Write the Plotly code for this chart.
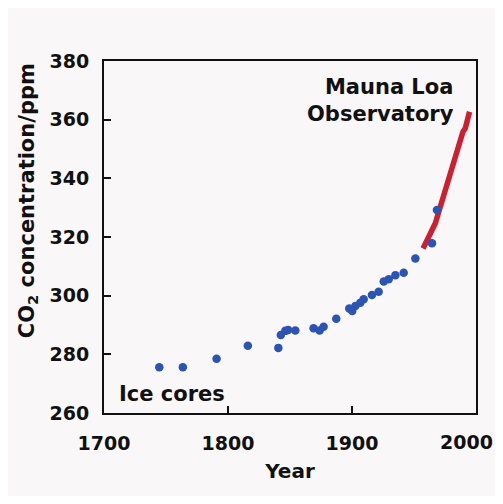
import plotly.graph_objects as go

# Ice core data (year, ppm)
ice_years = [1744.6, 1763.6, 1790.8, 1816.0, 1840.6, 1842.6, 1846.2, 1848.6, 1854.3,
             1869.0, 1873.9, 1877.1, 1887.3, 1897.8, 1900.2, 1902.7, 1906.7, 1909.4,
             1916.1, 1921.5, 1925.6, 1929.6, 1935.0, 1941.7, 1951.1, 1964.5, 1968.5]
ice_ppm = [275.6, 275.6, 278.5, 282.9, 282.2, 286.6, 288.0, 288.3, 288.1,
           288.9, 288.1, 289.4, 292.1, 295.6, 294.8, 296.5, 297.6, 298.8,
           300.2, 301.3, 304.8, 305.6, 307.0, 307.8, 312.7, 317.9, 329.2]

# Mauna Loa record
ml_years = [1957.3, 1961.8, 1967.2, 1971.2, 1975.3, 1979.3, 1983.3, 1987.4,
            1989.5, 1991.4, 1992.7, 1994.0, 1994.8]
ml_ppm = [316.1, 320.1, 324.7, 330.3, 336.0, 342.3, 348.5, 354.2,
          355.9, 357.1, 358.8, 361.6, 362.7]

x_ticks = [1700, 1800, 1900, 2000]
x_labels = ["1700", "1800", "1900", "2000"]
y_ticks = [260, 280, 300, 320, 340, 360, 380]

FONT = "DejaVu Sans"
BG = "#f9f7f7"
TICKFONT = dict(family=FONT, size=19, color="#111111", weight="bold")

fig = go.Figure()
fig.add_trace(go.Scatter(x=ml_years, y=ml_ppm, mode="lines",
                         line=dict(color="#cc1f2f", width=5.5),
                         hoverinfo="skip", showlegend=False))
fig.add_trace(go.Scatter(x=ice_years, y=ice_ppm, mode="markers",
                         marker=dict(color="#2b54b3", size=8.5),
                         showlegend=False))

axis_common = dict(showgrid=False, zeroline=False, showline=True, linecolor="#111111",
                   linewidth=2, mirror=True, ticks="inside", ticklen=7, tickwidth=1.5,
                   tickcolor="#111111", ticklabeloverflow="allow", automargin=False,
                   tickfont=TICKFONT)

# the last year label sits slightly inside the frame edge, as in the original
fig.update_xaxes(range=[1700, 2000], tickvals=x_ticks[:-1], ticktext=x_labels[:-1],
                 ticklabelstandoff=12,
                 title=dict(text="<b>Year</b>", font=dict(family=FONT, size=20, color="#111111"),
                            standoff=11),
                 **axis_common)
fig.update_yaxes(range=[260, 380], tickvals=y_ticks, ticklabelstandoff=9, **axis_common)

fig.add_annotation(text=x_labels[-1], x=x_ticks[-1], y=0, xref="x", yref="paper",
                   xanchor="center", yanchor="middle", xshift=-9.5, yshift=-29,
                   showarrow=False, font=TICKFONT)
fig.add_annotation(text="<b>Mauna Loa<br>Observatory</b>", x=1983.8, y=366.6,
                   xref="x", yref="y", xanchor="right", yanchor="middle", align="right",
                   showarrow=False, font=dict(family=FONT, size=21, color="#111111"))
fig.add_annotation(text="<b>Ice cores</b>", x=1754.5, y=266.5, xref="x", yref="y",
                   xanchor="center", yanchor="middle", showarrow=False,
                   font=dict(family=FONT, size=21, color="#111111"))
fig.add_annotation(text="<b>CO<sub>2</sub> concentration/ppm</b>", x=-0.204, y=0.602,
                   xref="paper", yref="paper", xanchor="center", yanchor="middle",
                   textangle=-90, showarrow=False,
                   font=dict(family=FONT, size=21, color="#111111"))

fig.update_layout(width=487, height=488, margin=dict(l=96, r=19, t=53, b=83),
                  paper_bgcolor=BG, plot_bgcolor=BG)

fig.write_html("out.html")
